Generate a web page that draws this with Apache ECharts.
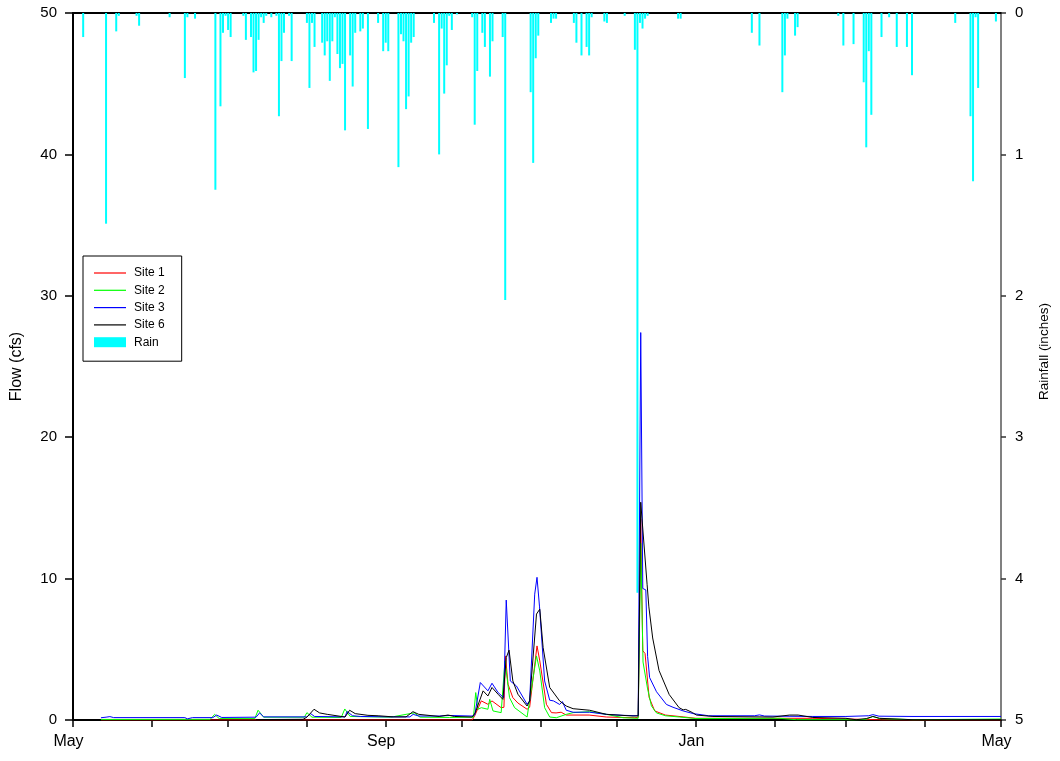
<!DOCTYPE html>
<html><head><meta charset="utf-8">
<script src="https://cdn.jsdelivr.net/npm/echarts@6/dist/echarts.min.js"></script>
<style>html,body{margin:0;padding:0;background:#fff}#c{width:1060px;height:761px}</style>
</head><body><div id="c"></div>
<script>
// x values are days since May 1
const monthTickDays = [0,31,61,92,123,153,184,214,245,276,304,335,365];
const monthLabelDays = [0,123,245,365];
const monthLabels = ['May','Sep','Jan','May'];

const rainDays = [4,13,17,18,25,26,38,44,45,48,56,58,59,60,61,62,67,68,70,71,72,73,74,75,76,78,80,81,82,83,85,86,92,93,94,95,98,99,100,101,102,103,104,105,106,107,109,110,111,113,114,116,120,122,123,124,128,129,130,131,132,133,134,142,144,145,146,147,148,149,151,157,158,159,161,162,164,165,169,170,180,181,182,183,188,189,190,197,198,200,202,203,204,209,210,217,221,222,223,224,225,226,238,239,267,270,279,280,281,284,285,301,303,307,311,312,313,314,318,321,324,328,330,347,353,354,355,356,363];
const rainInches = [0.17,1.49,0.13,0.02,0.02,0.09,0.03,0.46,0.03,0.04,1.25,0.66,0.14,0.02,0.12,0.17,0.02,0.19,0.17,0.42,0.41,0.19,0.03,0.07,0.02,0.03,0.02,0.73,0.34,0.14,0.02,0.34,0.07,0.53,0.07,0.24,0.21,0.30,0.20,0.48,0.20,0.03,0.29,0.39,0.36,0.83,0.30,0.52,0.14,0.13,0.11,0.82,0.07,0.27,0.21,0.27,1.09,0.15,0.20,0.68,0.59,0.21,0.17,0.07,1.00,0.11,0.57,0.37,0.02,0.12,0.01,0.03,0.79,0.41,0.14,0.24,0.45,0.20,0.17,2.03,0.56,1.06,0.32,0.16,0.07,0.04,0.04,0.07,0.21,0.30,0.24,0.30,0.03,0.06,0.07,0.02,0.26,4.1,0.07,0.11,0.04,0.02,0.04,0.04,0.14,0.23,0.56,0.30,0.04,0.16,0.10,0.02,0.23,0.22,0.49,0.95,0.27,0.72,0.17,0.03,0.24,0.24,0.44,0.07,0.73,1.19,0.03,0.53,0.06];

const site1 = [[11,0],[157,0],[158,0.3],[160.6,1.35],[163.2,1.11],[164.8,1.35],[168.4,0.87],[169.5,0.9],[170.1,4.53],[171.1,2.53],[173,1.58],[175,1.2],[178.6,0.76],[179.6,0.9],[182.5,5.24],[183.6,4.18],[186.2,1.11],[188.2,0.52],[190,0.5],[192,0.55],[194,0.35],[203,0.35],[209.8,0.21],[221,0.16],[222.3,0.2],[223.3,14.2],[224.1,4.9],[225,4.7],[226.6,1.6],[228.8,0.64],[233,0.35],[240,0.22],[245,0.12],[291,0.12],[304,0.07],[317,0.02],[318,0],[365,0]];
const site2 = [[11,0.04],[54,0.05],[55.7,0.4],[57.5,0.1],[71.5,0.1],[72.8,0.69],[75,0.2],[91,0.2],[92,0.52],[94,0.2],[105.5,0.18],[106.9,0.78],[109,0.25],[125,0.2],[132.5,0.45],[134.3,0.5],[136.5,0.2],[148,0.18],[157.5,0.2],[158.4,1.94],[159.3,0.76],[160.6,0.87],[163.2,0.76],[163.9,1.46],[165.2,0.64],[168.4,0.52],[169.9,4.18],[171.7,1.58],[173.7,0.87],[178.6,0.21],[182.3,4.53],[183.6,3.47],[185.5,0.87],[187.5,0.21],[190.1,0.16],[194,0.4],[196.7,0.52],[203.2,0.59],[209.8,0.4],[216.4,0.16],[222.3,0.12],[223.3,12.5],[224.2,4.1],[224.8,4.0],[226,2.2],[227.5,1.0],[229.5,0.5],[233,0.3],[238.6,0.21],[245,0.1],[278,0.12],[284.5,0.02],[304,0.02],[306.6,0],[312,0.05],[314.6,0.25],[317.2,0.1],[330.4,0.02],[365,0.07]];
const site3 = [[11,0.16],[13,0.2],[14.5,0.24],[16,0.17],[44,0.17],[45,0.08],[47,0.17],[55,0.17],[56.5,0.35],[58.5,0.18],[72,0.2],[73.4,0.5],[75,0.22],[92,0.22],[93.5,0.45],[95,0.25],[107,0.22],[107.8,0.6],[110,0.3],[113,0.25],[125,0.22],[132.5,0.22],[133.8,0.4],[136,0.28],[144,0.28],[148,0.32],[157,0.28],[158,0.35],[160.2,2.65],[163.2,2.06],[164.8,2.6],[167.2,1.94],[169.4,1.58],[170.4,8.48],[172,2.76],[174.4,2.41],[178.6,1.11],[179.6,1.35],[181.6,8.9],[182.5,10.09],[183.5,8.0],[185.5,2.76],[187.5,1.4],[189,1.35],[191.4,1.1],[192.5,1.3],[194,0.69],[196.7,0.55],[203.2,0.55],[209.8,0.4],[216.4,0.33],[222.3,0.3],[223.3,27.4],[224.1,9.3],[225.3,9.2],[226,4.5],[226.8,3.0],[229.5,2.0],[233.4,1.1],[236,0.9],[240,0.64],[244,0.45],[250,0.3],[268,0.3],[270,0.36],[272,0.28],[291,0.25],[304,0.25],[313,0.3],[314.6,0.38],[317,0.27],[330,0.25],[365,0.25]];
const site6 = [[72,0.03],[90.5,0.05],[92,0.2],[94.8,0.76],[97,0.5],[100,0.4],[107,0.21],[108.8,0.69],[111,0.45],[116,0.33],[120,0.3],[126,0.22],[131,0.22],[133.7,0.59],[136,0.4],[144,0.25],[147.5,0.35],[150,0.25],[157,0.21],[158.2,0.5],[161.3,2.06],[163.2,1.7],[164.8,2.3],[167.2,1.82],[169.1,1.46],[170.4,4.41],[171.5,4.94],[173,2.76],[175,1.82],[178.6,0.99],[179.6,1.35],[182.3,7.49],[183.6,7.84],[184.9,5.13],[187.5,2.3],[191.4,1.35],[194,0.99],[196.7,0.8],[203.2,0.69],[209.8,0.4],[220.3,0.28],[222.3,0.3],[223.3,15.4],[225.8,9.6],[226.5,8.0],[228,5.8],[230.5,3.5],[234.5,1.8],[238.4,0.87],[240,0.72],[241,0.75],[243.7,0.52],[245.2,0.35],[251.7,0.25],[275.3,0.21],[281.9,0.35],[285.2,0.35],[291,0.18],[304,0.12],[308,0.02],[312,0.1],[314.6,0.25],[317.2,0.12],[330.4,0.02],[365,0.02]];

const FONT = "'Liberation Sans', Arial, sans-serif";
const LINE_ICON = 'path://M0,0L32,0L32,1.2L0,1.2Z';
const rainData = rainDays.map((d, i) => [d, rainInches[i]]);

const chart = echarts.init(document.getElementById('c'), null, {renderer: 'canvas'});
const lineSeries = (name, data, color) => ({
  name, type: 'line', data, xAxisIndex: 0, yAxisIndex: 0,
  showSymbol: false, symbol: 'none', smooth: false,
  lineStyle: {color, width: 1}, itemStyle: {color}, z: 3
});
chart.setOption({
  animation: false,
  backgroundColor: '#fff',
  textStyle: {fontFamily: FONT},
  grid: {left: 73, right: 59, top: 13, bottom: 41, containLabel: false},
  xAxis: [{
    type: 'value', min: 0, max: 365, position: 'bottom',
    axisLine: {show: true, onZero: false, lineStyle: {color: '#000', width: 2}},
    axisTick: {show: true, length: 7, customValues: monthTickDays, lineStyle: {color: '#000', width: 1.5}},
    axisLabel: {show: true, customValues: monthLabelDays, fontSize: 16, color: '#000', fontFamily: FONT, margin: 14,
      padding: [0, 9, 0, 0],
      formatter: v => monthLabels[monthLabelDays.indexOf(v)] || ''},
    splitLine: {show: false}
  }, {
    type: 'value', min: 0, max: 365, position: 'top',
    axisLine: {show: true, onZero: false, lineStyle: {color: '#000', width: 2}},
    axisTick: {show: false}, axisLabel: {show: false}, splitLine: {show: false}
  }],
  yAxis: [{
    type: 'value', min: 0, max: 50, interval: 10, position: 'left',
    name: 'Flow (cfs)', nameLocation: 'middle', nameGap: 48, nameRotate: 90,
    nameTextStyle: {fontSize: 16, color: '#000', fontFamily: FONT},
    axisLine: {show: true, onZero: false, lineStyle: {color: '#000', width: 2}},
    axisTick: {show: true, length: 8, lineStyle: {color: '#000', width: 1.5}},
    axisLabel: {fontSize: 15, color: '#000', margin: 16, fontFamily: FONT},
    splitLine: {show: false}
  }, {
    type: 'value', min: 0, max: 5, interval: 1, inverse: true, position: 'right',
    name: 'Rainfall (inches)', nameLocation: 'middle', nameGap: 36, nameRotate: 90,
    nameTextStyle: {fontSize: 13.5, color: '#000', fontFamily: FONT, padding: [0, 0, 0, 30]},
    axisLine: {show: true, onZero: false, lineStyle: {color: '#808080', width: 2}},
    axisTick: {show: true, length: 5, lineStyle: {color: '#333', width: 1.5}},
    axisLabel: {fontSize: 15, color: '#000', margin: 14, fontFamily: FONT},
    splitLine: {show: false}
  }],
  legend: {
    orient: 'vertical', left: 83, top: 256,
    padding: [11, 17, 13, 11], itemGap: 5.3,
    itemWidth: 32, itemHeight: 10, symbolKeepAspect: true,
    backgroundColor: '#fff', borderColor: '#000', borderWidth: 1,
    textStyle: {fontSize: 12, color: '#000', fontFamily: FONT, padding: [0, 0, 0, 3]},
    data: [
      {name: 'Site 1', icon: LINE_ICON},
      {name: 'Site 2', icon: LINE_ICON},
      {name: 'Site 3', icon: LINE_ICON},
      {name: 'Site 6', icon: LINE_ICON},
      {name: 'Rain', icon: 'rect'}
    ]
  },
  series: [
    {name: 'Rain', type: 'bar', data: rainData, xAxisIndex: 0, yAxisIndex: 1,
     barWidth: 2, itemStyle: {color: '#00ffff'}, z: 2},
    lineSeries('Site 1', site1, '#ff0000'),
    lineSeries('Site 2', site2, '#00ff00'),
    lineSeries('Site 3', site3, '#0000ff'),
    lineSeries('Site 6', site6, '#000000')
  ]
});
</script></body></html>
